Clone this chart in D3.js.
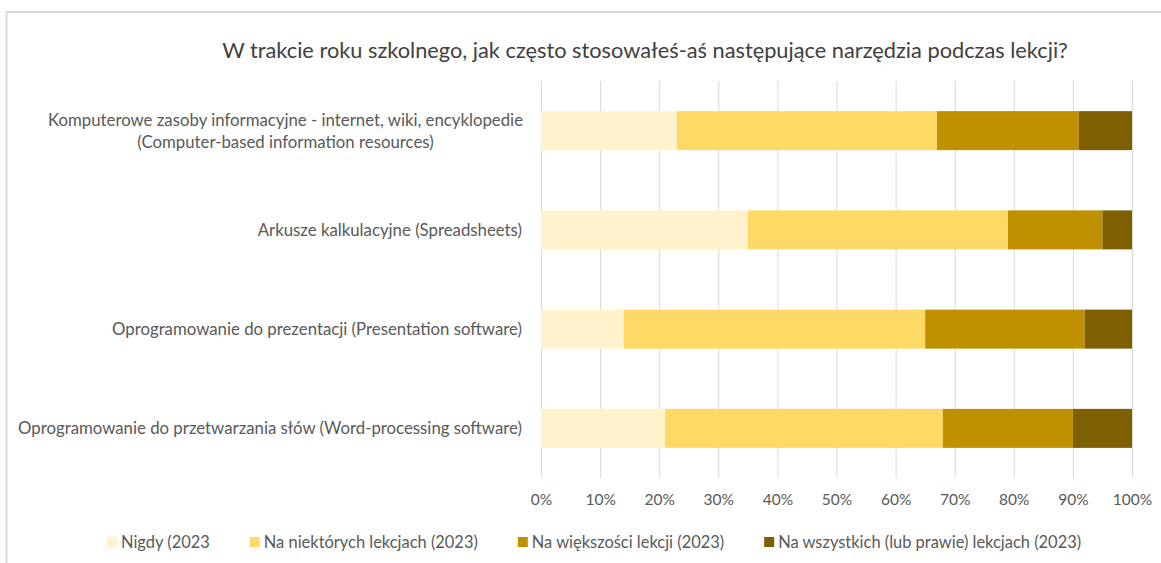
<!DOCTYPE html>
<html>
<head>
<meta charset="utf-8">
<script src="https://cdn.jsdelivr.net/npm/d3@7"></script>
<style>
  html, body { margin: 0; padding: 0; background: #fff; }
  svg { display: block; font-family: Lato, "Open Sans", sans-serif; }
</style>
</head>
<body>
<div id="chart"></div>
<script>
// Stacked 100% bar – narzędzia na lekcjach (2023)
const TITLE = "W trakcie roku szkolnego, jak często stosowałeś-aś następujące narzędzia podczas lekcji?";

const categories = [
  ["Komputerowe zasoby informacyjne - internet, wiki, encyklopedie", "(Computer-based information resources)"],
  ["Arkusze kalkulacyjne (Spreadsheets)"],
  ["Oprogramowanie do prezentacji (Presentation software)"],
  ["Oprogramowanie do przetwarzania słów (Word-processing software)"]
];
const seriesNames = [
  "Nigdy (2023",
  "Na niektórych lekcjach (2023)",
  "Na większości lekcji (2023)",
  "Na wszystkich (lub prawie) lekcjach (2023)"
];
const seriesColors = ["#FFF2CC", "#FFD966", "#BF9000", "#7F6000"];

// wartości w % (po kolei dla kategorii)
const nigdy      = [23, 35, 14, 21];
const niektore   = [44, 44, 51, 47];
const wiekszosc  = [24, 16, 27, 22];
const wszystkie  = [9, 5, 8, 10];
const xTicks = [0, 10, 20, 30, 40, 50, 60, 70, 80, 90, 100];

const W = 1161, H = 563;
const plot = { left: 541, right: 1132, top: 81, bottom: 478 };

const svg = d3.select("#chart").append("svg").attr("width", W).attr("height", H);

// ramka
svg.append("rect")
  .attr("x", 6.5).attr("y", 12).attr("width", W + 10).attr("height", H + 10)
  .attr("fill", "none").attr("stroke", "#d9d9d9").attr("stroke-width", 2);

const keys = categories.map((c, i) => i);
const rows = keys.map(i => ({ i, v: [nigdy[i], niektore[i], wiekszosc[i], wszystkie[i]] }));

const x = d3.scaleLinear().domain([0, 100]).range([plot.left, plot.right]);
const y = d3.scaleBand().domain(keys).range([plot.top, plot.bottom])
  .paddingInner(0.607).paddingOuter(0.3035);

// siatka
svg.append("g")
  .attr("transform", `translate(0,${plot.bottom})`)
  .call(d3.axisBottom(x).tickValues(xTicks).tickSize(-(plot.bottom - plot.top)).tickFormat(""))
  .call(g => g.select(".domain").remove())
  .selectAll(".tick line").attr("stroke", "#d9d9d9").attr("stroke-width", 1);

// etykiety osi X
svg.append("g")
  .attr("transform", `translate(0,${plot.bottom})`)
  .call(d3.axisBottom(x).tickValues(xTicks).tickSize(0).tickPadding(16).tickFormat(d => d + "%"))
  .call(g => g.select(".domain").remove())
  .selectAll("text").attr("fill", "#595959").attr("font-size", 15.5).attr("font-family", "Lato");

// słupki
const stack = rows.map(r => {
  let acc = 0;
  return r.v.map((v, s) => { const o = { i: r.i, s, x0: acc, x1: acc + v }; acc += v; return o; });
}).flat();

svg.append("g").selectAll("rect")
  .data(stack).join("rect")
  .attr("x", d => x(d.x0))
  .attr("y", d => y(d.i))
  .attr("width", d => x(d.x1) - x(d.x0))
  .attr("height", y.bandwidth())
  .attr("fill", d => seriesColors[d.s]);

// etykiety kategorii
const lab = svg.append("g").attr("fill", "#595959").attr("font-size", 15.2);
const labTexts = categories.map((lines, i) => {
  const cy = y(i) + y.bandwidth() / 2;
  const lx = lines.length > 1 ? 285.5 : 522;
  const t = lab.append("text").attr("text-anchor", lines.length > 1 ? "middle" : "end");
  lines.forEach((ln, k) => {
    t.append("tspan")
      .attr("x", lx)
      .attr("y", cy + (k - (lines.length - 1) / 2) * 22)
      .attr("dy", "0.35em")
      .text(ln);
  });
  return t;
});
// dopasuj szerokość do najdłuższej etykiety (504 px w oryginale)
const longest = labTexts[3].node().getComputedTextLength();
lab.attr("font-size", 15.2 * 504 / longest);

// tytuł
const title = svg.append("text")
  .attr("x", 645).attr("y", 50).attr("dy", "0.35em")
  .attr("text-anchor", "middle")
  .attr("fill", "#404040").attr("font-size", 19.5)
  .text(TITLE);
const tw = title.node().getComputedTextLength();
title.attr("font-size", 19.5 * 846 / tw);

// legenda
const legend = svg.append("g");
const gap = 40, sw = 14;
const items = seriesNames.map((n, s) => {
  const g = legend.append("g");
  g.append("rect").attr("width", 10).attr("height", 10).attr("y", -5).attr("fill", seriesColors[s]);
  const t = g.append("text").attr("x", sw).attr("dy", "0.35em")
    .attr("fill", "#595959").attr("font-size", 14.5).text(n);
  return { g, t };
});
const textW = d3.sum(items, d => d.t.node().getComputedTextLength());
const k = (975 - gap * 3 - sw * 4) / textW;
items.forEach(d => d.t.attr("font-size", 14.5 * k));
let lx = 107;
items.forEach(it => {
  it.g.attr("transform", `translate(${lx},542)`);
  lx += sw + it.t.node().getComputedTextLength() + gap;
});
</script>
</body>
</html>
